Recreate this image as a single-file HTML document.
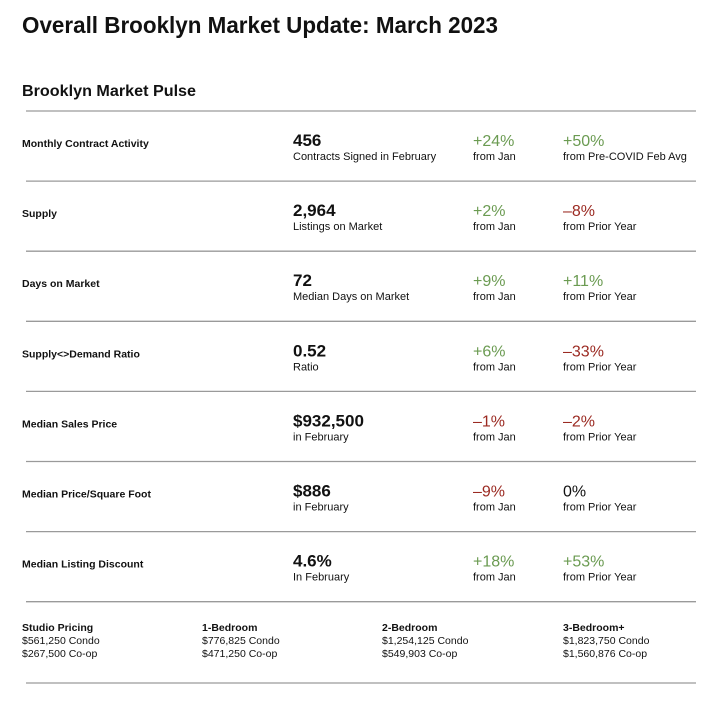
<!DOCTYPE html>
<html><head><meta charset="utf-8"><style>
body{margin:0;background:#fff;}
svg{display:block;font-family:"Liberation Sans",sans-serif;}
</style></head><body>
<svg id="c" width="720" height="702" viewBox="0 0 720 702">
<text x="22" y="33" font-size="23" font-weight="bold" fill="#111" textLength="476" lengthAdjust="spacingAndGlyphs">Overall Brooklyn Market Update: March 2023</text>
<text x="22" y="96" font-size="16" font-weight="bold" fill="#111" textLength="174" lengthAdjust="spacingAndGlyphs">Brooklyn Market Pulse</text>
</svg>
<script>
const metrics=["Monthly Contract Activity","Supply","Days on Market","Supply<>Demand Ratio","Median Sales Price","Median Price/Square Foot","Median Listing Discount"];
const values=["456","2,964","72","0.52","$932,500","$886","4.6%"];
const subtexts=["Contracts Signed in February","Listings on Market","Median Days on Market","Ratio","in February","in February","In February"];
const changeJan=[24,2,9,6,-1,-9,18];
const changeYear=[50,-8,11,-33,-2,0,53];
const yearLabels=["from Pre-COVID Feb Avg","from Prior Year","from Prior Year","from Prior Year","from Prior Year","from Prior Year","from Prior Year"];
const unitTypes=["Studio Pricing","1-Bedroom","2-Bedroom","3-Bedroom+"];
const condoPrices=["$561,250 Condo","$776,825 Condo","$1,254,125 Condo","$1,823,750 Condo"];
const coopPrices=["$267,500 Co-op","$471,250 Co-op","$549,903 Co-op","$1,560,876 Co-op"];

const svg=document.getElementById('c');
const NS='http://www.w3.org/2000/svg';
function mk(tag,attrs,txt){const e=document.createElementNS(NS,tag);for(const k in attrs)e.setAttribute(k,attrs[k]);if(txt!==undefined)e.textContent=txt;svg.appendChild(e);return e;}
function line(y,name){const l=mk('line',{x1:26,x2:696,y1:y,y2:y,stroke:'#9a9a9a','stroke-width':1.3});

}
function fmt(v){return v>0?'+'+v+'%':(v<0?'\u2013'+Math.abs(v)+'%':'0%');}
function col(v){return v>0?'#6b9b52':(v<0?'#9b2a22':'#111');}
const rowY=i=>111+70.1*i;
metrics.forEach((m,i)=>{
  const y=rowY(i);
  line(y,'row-divider');
  let t=mk('text',{x:22,y:y+36,'font-size':10.5,'font-weight':'bold',fill:'#111'},m);
  
  
  t=mk('text',{x:293,y:y+35,'font-size':17,'font-weight':'bold',fill:'#111'},values[i]);
  
  
  t=mk('text',{x:293,y:y+49,'font-size':11,fill:'#111'},subtexts[i]);
  
  
  t=mk('text',{x:473,y:y+35,'font-size':16,fill:col(changeJan[i])},fmt(changeJan[i]));
  
  
  t=mk('text',{x:473,y:y+49,'font-size':11,fill:'#111'},'from Jan');
  
  
  t=mk('text',{x:563,y:y+35,'font-size':16,fill:col(changeYear[i])},fmt(changeYear[i]));
  
  
  t=mk('text',{x:563,y:y+49,'font-size':11,fill:'#111'},yearLabels[i]);
  
  
});
line(rowY(7),'row-divider');
line(683,'bottom-divider');
const colX=[22,202,382,563];
unitTypes.forEach((u,i)=>{
  let t=mk('text',{x:colX[i],y:631,'font-size':10.5,'font-weight':'bold',fill:'#111'},u);
  
  
  t=mk('text',{x:colX[i],y:644,'font-size':10.5,fill:'#111'},condoPrices[i]);
  
  
  t=mk('text',{x:colX[i],y:657,'font-size':10.5,fill:'#111'},coopPrices[i]);
  
  
});
</script>
</body></html>
